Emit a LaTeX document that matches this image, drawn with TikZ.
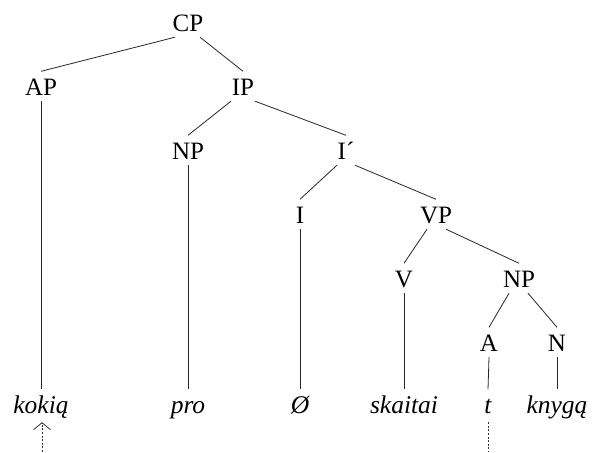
\documentclass[tikz,border=0pt]{standalone}
\usepackage{fontspec}
\setmainfont{Liberation Serif}
\usetikzlibrary{arrows.meta}
\tikzset{
  tn/.style={inner sep=0pt, text height=23.5pt, text depth=6pt, anchor=base, font=\fontsize{25}{29}\selectfont},
  lf/.style={tn, font=\fontsize{25.5}{29}\selectfont\itshape},
  edge/.style={line width=0.8pt, draw=black!85},
  trace/.style={line width=0.8pt, draw=black!80, dash pattern=on 2pt off 1.6pt},
}
\begin{document}
\begin{tikzpicture}[x=1pt,y=-1pt]
\useasboundingbox (0,0) rectangle (593,452);
% phrase nodes
\node[tn] (CP)  at (188,31)  {CP};
\node[tn] (AP)  at (41,95)   {AP};
\node[tn] (IP)  at (243,95)  {IP};
\node[tn] (NP)  at (188,159) {NP};
\node[tn] (Ib)  at (346,159) {I´};
\node[tn] (I)   at (300,223) {I};
\node[tn] (VP)  at (436,223) {VP};
\node[tn] (V)   at (404,287) {V};
\node[tn] (NPb) at (519,287) {NP};
\node[tn] (A)   at (489,351) {A};
\node[tn] (N)   at (557,351) {N};
% leaves
\node[lf] (kokia)   at (41,413)  {kokią};
\node[lf] (pro)     at (188,413) {pro};
\node[lf] (empty)   at (300,413) {Ø};
\node[lf] (skaitai) at (404,413) {skaitai};
\node[lf] (t)       at (488,413) {t};
\node[lf] (knyga)   at (557,413) {knygą};
% branches
\draw[edge] ([xshift=-13pt]CP.south) -- (AP.north);
\draw[edge] ([xshift=12pt]CP.south) -- (IP.north);
\draw[edge] ([xshift=-12pt]IP.south) -- (NP.north);
\draw[edge] ([xshift=12pt]IP.south) -- (Ib.north);
\draw[edge] ([xshift=-9pt]Ib.south) -- (I.north);
\draw[edge] ([xshift=9pt]Ib.south) -- (VP.north);
\draw[edge] ([xshift=-9pt]VP.south) -- (V.north);
\draw[edge] ([xshift=10pt]VP.south) -- (NPb.north);
\draw[edge] ([xshift=-10pt]NPb.south) -- (A.north);
\draw[edge] ([xshift=9pt]NPb.south) -- (N.north);
% vertical lines to leaves
\draw[edge] (AP.south) -- (kokia.north);
\draw[edge] (NP.south) -- (pro.north);
\draw[edge] (I.south) -- (empty.north);
\draw[edge] (V.south) -- (skaitai.north);
\draw[edge] (A.south) -- (t.north);
\draw[edge] (N.south) -- (knyga.north);
% movement traces
\coordinate (kbot) at (42,452);
\coordinate (tbot) at (488,452);
\draw[trace, -{Straight Barb[length=7pt,width=17pt,line width=0.8pt]}] (kbot) -- ([xshift=1pt,yshift=-3pt]kokia.south);
\draw[trace] ([yshift=-3pt]t.south) -- (tbot);
\end{tikzpicture}
\end{document}
